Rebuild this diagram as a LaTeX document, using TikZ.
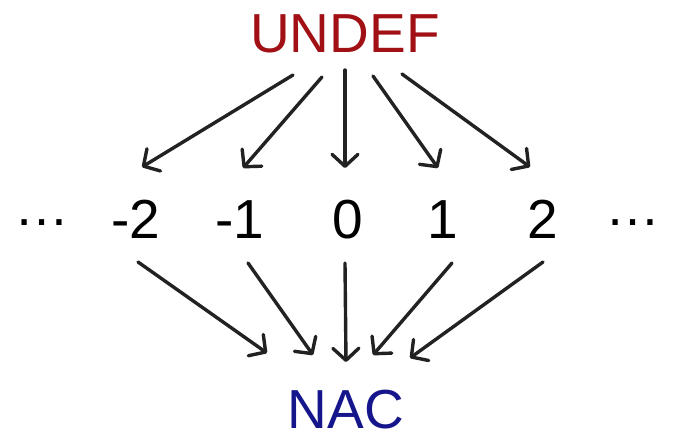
\documentclass[tikz,border=0pt]{standalone}
\usepackage{fontspec}
\setmainfont{Liberation Sans}
\usetikzlibrary{arrows.meta,calc}
\definecolor{undefred}{RGB}{160,16,20}
\definecolor{nacblue}{RGB}{22,22,140}
\definecolor{arrgray}{RGB}{34,34,34}
\tikzset{
  lbl/.style={inner sep=0pt, anchor=base, font=\fontsize{55}{60}\selectfont},
  arr/.style={draw=arrgray, line width=3.4pt, line cap=round,
    -{Straight Barb[length=12pt,width=26pt,line width=3.4pt,line cap=round,line join=round]}}
}
\begin{document}
\begin{tikzpicture}[x=1pt,y=-1pt]
\useasboundingbox (0,0) rectangle (675,440);
\node[lbl, text=undefred] (U) at (345,52) {UNDEF};
\node[lbl] (dl) at (42,238) {\raisebox{12.5pt}{…}};
\node[lbl] (m2) at (136,238) {-2};
\node[lbl] (m1) at (240,238) {-1};
\node[lbl] (z) at (348,238) {0};
\node[lbl] (p1) at (443,238) {1};
\node[lbl] (p2) at (543,238) {2};
\node[lbl] (dr) at (633,238) {\raisebox{12.5pt}{…}};
\node[lbl, text=nacblue] (N) at (346,428) {NAC};
% top fan
\draw[arr] ($(U.base)+(-52,23)$) -- ($(m2.base)+(6,-71)$);
\draw[arr] ($(U.base)+(-23,25)$) -- ($(m1.base)+(3,-70)$);
\draw[arr] ($(U.base)+(0,18)$) -- ($(z.base)+(-3,-70)$);
\draw[arr] ($(U.base)+(28,24)$) -- ($(p1.base)+(-5,-70)$);
\draw[arr] ($(U.base)+(57,22)$) -- ($(p2.base)+(-13,-71)$);
% bottom fan
\draw[arr] ($(m2.base)+(2,24)$) -- ($(N.base)+(-79,-75)$);
\draw[arr] ($(m1.base)+(8,25)$) -- ($(N.base)+(-33,-73)$);
\draw[arr] ($(z.base)+(-3,25)$) -- ($(N.base)+(0,-66)$);
\draw[arr] ($(p1.base)+(9,25)$) -- ($(N.base)+(27,-73)$);
\draw[arr] ($(p2.base)+(0,24)$) -- ($(N.base)+(64,-70)$);
\end{tikzpicture}
\end{document}
